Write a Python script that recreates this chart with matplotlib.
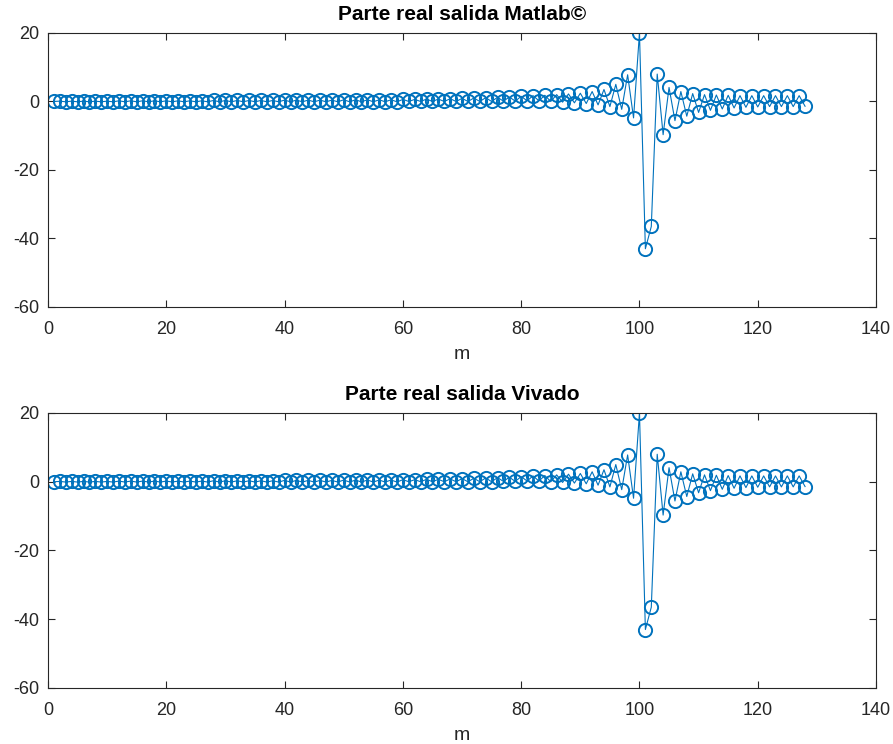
import matplotlib
matplotlib.use("Agg")
import matplotlib.pyplot as plt
import numpy as np

plt.rcParams['font.family'] = ['Liberation Sans', 'DejaVu Sans']
plt.rcParams['axes.unicode_minus'] = False

# Sample index
m = list(range(1, 129))

# Real part of the output (samples 1..128)
salida_matlab = [
    # 1-20
    0.0, 0.1, -0.1, 0.1, -0.1, 0.1, -0.1, 0.1, -0.1, 0.1,
    -0.1, 0.2, -0.1, 0.2, -0.1, 0.2, -0.1, 0.2, -0.1, 0.2,
    # 21-40
    -0.1, 0.2, -0.1, 0.2, -0.1, 0.2, -0.1, 0.3, -0.1, 0.3,
    -0.1, 0.3, -0.1, 0.3, -0.1, 0.3, -0.1, 0.3, -0.1, 0.4,
    # 41-60
    -0.1, 0.4, -0.1, 0.4, -0.1, 0.4, -0.1, 0.4, -0.1, 0.5,
    -0.1, 0.5, -0.1, 0.5, -0.1, 0.5, -0.1, 0.5, -0.1, 0.6,
    # 61-80
    0.0, 0.6, 0.0, 0.7, 0.0, 0.7, 0.0, 0.8, 0.0, 0.9,
    0.0, 1.0, 0.0, 1.1, 0.0, 1.2, 0.1, 1.3, 0.1, 1.5,
    # 81-100
    0.2, 1.7, 0.2, 1.8, 0.0, 2.0, -0.2, 2.2, -0.4, 2.4,
    -0.6, 2.9, -1.0, 3.5, -1.5, 5.0, -2.3, 7.8, -4.8, 20.0,
    # 101-120
    -43.0, -36.5, 8.0, -9.7, 4.1, -5.6, 2.9, -4.3, 2.3, -3.2,
    2.0, -2.6, 1.9, -2.2, 1.8, -1.9, 1.7, -1.7, 1.7, -1.6,
    # 121-128
    1.7, -1.5, 1.7, -1.5, 1.7, -1.5, 1.7, -1.4,
]

# Fixed-point hardware output (same samples)
salida_vivado = list(salida_matlab)

titles = ["Parte real salida Matlab\u00a9", "Parte real salida Vivado"]
series = [salida_matlab, salida_vivado]

xticks = [0, 20, 40, 60, 80, 100, 120, 140]
yticks = [-60, -40, -20, 0, 20]

color = '#0072BD'
axis_color = '#262626'

fig = plt.figure(figsize=(8.93, 7.44), dpi=100)
positions = [
    [0.0538, 0.5874, 0.9272, 0.3683],
    [0.0538, 0.0753, 0.9272, 0.3696],
]

for pos, title, y in zip(positions, titles, series):
    ax = fig.add_axes(pos)
    ax.plot(m, y, '-o', color=color, linewidth=0.8,
            markersize=9.5, markerfacecolor='none', markeredgewidth=1.4)
    ax.set_xlim(0, 140)
    ax.set_ylim(-60, 20)
    ax.set_xticks(xticks)
    ax.set_yticks(yticks)
    ax.tick_params(direction='in', length=5, width=0.8, colors=axis_color,
                   labelsize=13, top=True, right=True, pad=6)
    ax.tick_params(axis='x', pad=10)
    for sp in ax.spines.values():
        sp.set_color(axis_color)
        sp.set_linewidth(0.8)
    ax.set_title(title, fontsize=15, fontweight='bold', pad=9)
    ax.set_xlabel('m', fontsize=14, color=axis_color, labelpad=6)

fig.savefig('out.png', dpi=100)
